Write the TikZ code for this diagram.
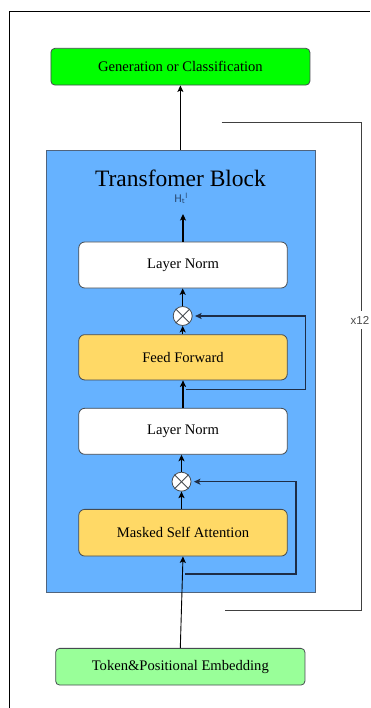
\documentclass[tikz,border=0pt]{standalone}
\usepackage{fontspec}
\setmainfont{Liberation Serif}
\newfontfamily\sansf{Liberation Sans}
\usetikzlibrary{arrows.meta}
\definecolor{gengreen}{RGB}{0,255,0}
\definecolor{tokgreen}{RGB}{153,255,153}
\definecolor{blockblue}{RGB}{102,178,255}
\definecolor{ffyellow}{RGB}{255,217,102}
\definecolor{boxline}{RGB}{70,75,80}
\definecolor{bluebord}{RGB}{80,100,125}
\definecolor{resline}{RGB}{30,45,70}
\definecolor{hcol}{RGB}{35,60,95}
\tikzset{
  x=1pt,y=-1pt,
  lbl/.style={font=\fontsize{14.6}{16}\selectfont},
  outbox/.style={draw=boxline,line width=0.8pt,rounded corners=4pt,minimum width=259pt,minimum height=36.7pt,inner sep=0pt,lbl},
  inbox/.style={draw=boxline,line width=0.8pt,rounded corners=6pt,minimum width=208.5pt,minimum height=46pt,inner sep=0pt,lbl},
  mult/.style={circle,draw=boxline,fill=white,line width=0.8pt,minimum size=19pt,inner sep=0pt},
  tip/.style={-{Stealth[length=6.5pt,width=6pt,inset=1.5pt]}},
  thin arrow/.style={tip,line width=0.9pt,draw=black},
  thick arrow/.style={tip,line width=1.4pt,draw=black},
  resid/.style={tip,line width=1.3pt,draw=resline,shorten >=2.5pt},
}
\begin{document}
\begin{tikzpicture}
\useasboundingbox (0,0) rectangle (370,708);
% outer frame (partially visible)
\draw[line width=0.9pt,black] (9.3,708) -- (9.3,11.3) -- (370,11.3);
% transformer block background
\node[draw=bluebord,fill=blockblue,line width=0.9pt,minimum width=269pt,minimum height=442.7pt,inner sep=0pt] (blk) at (180.5,371.35) {};
% outer boxes
\node[outbox,fill=gengreen] (gen) at (180.4,66.7) {Generation or Classification};
\node[outbox,fill=tokgreen,minimum width=249.3pt] (tok) at (180.3,666.7) {Token\&Positional Embedding};
% title and hidden label
\node[font=\fontsize{23.5}{26}\selectfont,inner sep=0pt] (title) at (180.5,178) {Transfomer Block};
\node[inner sep=0pt,text=hcol,font=\fontsize{11}{11}\selectfont] (hl) at (181,198.5) {$\mathsf{H}_{\mathsf{t}}{}^{\mathsf{l}}$};
\coordinate (hend) at (183,214);
% inner boxes
\node[inbox,fill=white] (ln1) at (183,265) {Layer Norm};
\node[mult] (c1) at (182.7,316) {};
\node[inbox,fill=ffyellow,minimum height=45.3pt] (ff) at (183,357.3) {Feed Forward};
\node[inbox,fill=white] (ln2) at (183,431.3) {Layer Norm};
\node[mult] (c2) at (181.5,481.7) {};
\node[inbox,fill=ffyellow,minimum height=46.7pt] (msa) at (183,532.7) {Masked Self Attention};
% crosses in multipliers
\foreach \c in {c1,c2}{
  \draw[boxline,line width=0.8pt] (\c.north east) -- (\c.south west);
  \draw[boxline,line width=0.8pt] (\c.north west) -- (\c.south east);
}
% main flow
\draw[thin arrow] (gen.south |- blk.north) -- (gen.south);
\draw[thick arrow] (ln1.north) -- (hend);
\draw[thick arrow] (c1.north) -- (c1.north |- ln1.south);
\draw[thick arrow] (c1.south |- ff.north) -- (c1.south);
\draw[thick arrow] (ln2.north) -- (ff.south);
\draw[thick arrow] (c2.north) -- (c2.north |- ln2.south);
\draw[thick arrow] (c2.south |- msa.north) -- (c2.south);
\draw[thin arrow] (tok.north) -- (msa.south);
% residual connections
\coordinate (r1s) at (185.7,389.3);
\coordinate (r1c) at (305.7,389.3);
\draw[resid] (r1s) -- (r1c) |- (c1.east);
\coordinate (r2s) at (185,574);
\coordinate (r2c) at (296,574);
\draw[resid] (r2s) -- (r2c) |- (c2.east);
% repetition bracket
\coordinate (bt) at (221.7,122.3);
\coordinate (btr) at (361.5,122.3);
\coordinate (bbr) at (361.5,610.7);
\coordinate (bb) at (225,610.7);
\draw[line width=0.9pt,black!75] (bt) -- (btr) -- (bbr) -- (bb);
\node[fill=white,text=black!70,font=\sansf\fontsize{11.5}{12}\selectfont,inner xsep=1pt,inner ysep=5pt] (rep) at (360,320) {x12};
\end{tikzpicture}
\end{document}
